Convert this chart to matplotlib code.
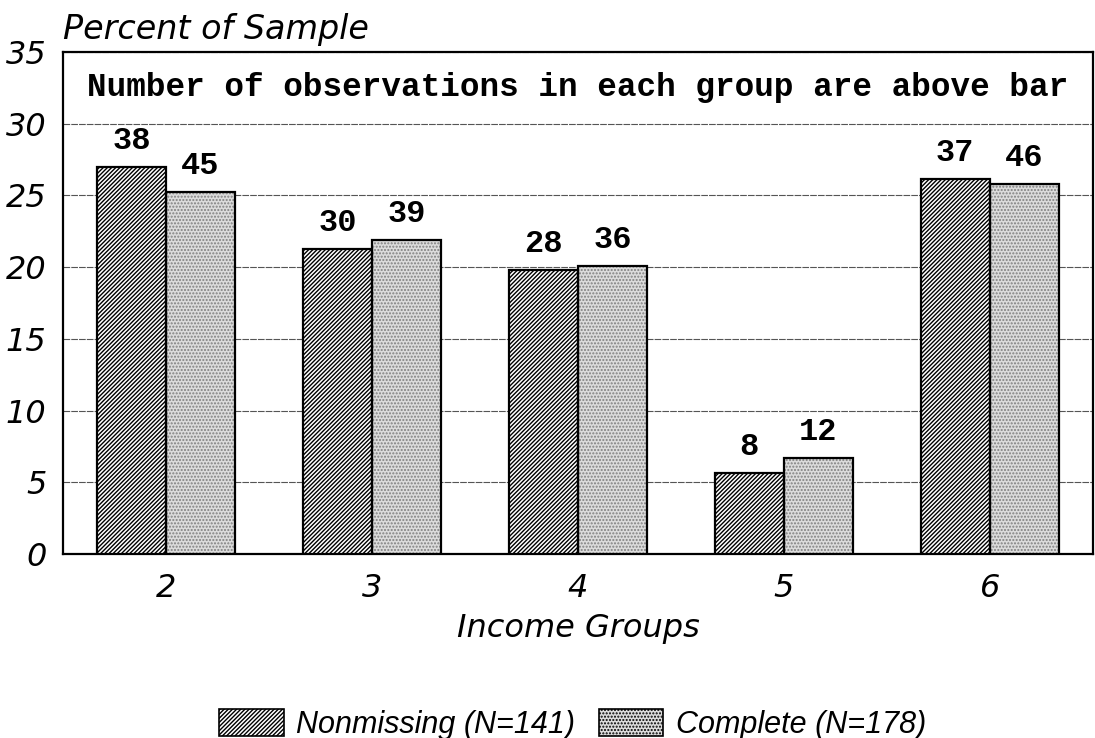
import numpy as np
import matplotlib
matplotlib.use('Agg')
import matplotlib.pyplot as plt
from matplotlib.patches import Patch

## Dados
groups = ['2', '3', '4', '5', '6']
nonmissing = [27.0, 21.3, 19.8, 5.65, 26.15]
complete = [25.25, 21.9, 20.1, 6.7, 25.8]
n_nonmissing = [38, 30, 28, 8, 37]
n_complete = [45, 39, 36, 12, 46]
yticks = [0, 5, 10, 15, 20, 25, 30, 35]

plt.rcParams['hatch.linewidth'] = 1.0
sans = ['DejaVu Sans']
narrow = ['Liberation Sans', 'DejaVu Sans']
mono = ['Liberation Mono', 'DejaVu Sans Mono']

fig = plt.figure(figsize=(10.95, 7.38), dpi=100)
ax = fig.add_axes([0.0575, 0.2493, 0.9405, 0.6802])

x = np.arange(len(groups))
w = 0.335

## Barras
ax.bar(x - w/2, nonmissing, w, facecolor='white', edgecolor='black', hatch='////////', linewidth=0, zorder=3)
ax.bar(x + w/2, complete, w, facecolor='#dcdcdc', edgecolor='#808080', hatch='.....', linewidth=0, zorder=3)
ax.bar(x - w/2, nonmissing, w, facecolor='none', edgecolor='black', linewidth=1.6, zorder=4)
ax.bar(x + w/2, complete, w, facecolor='none', edgecolor='black', linewidth=1.6, zorder=4)

for i in range(len(groups)):
    ax.text(x[i] - w/2, nonmissing[i] + 0.75, str(n_nonmissing[i]), ha='center', va='bottom',
            fontsize=23, family=mono, weight='bold')
    ax.text(x[i] + w/2, complete[i] + 0.75, str(n_complete[i]), ha='center', va='bottom',
            fontsize=23, family=mono, weight='bold')

ax.text(2, 32.5, 'Number of observations in each group are above bar', ha='center', va='center',
        fontsize=23.5, family=mono, weight='bold')

ax.set_xlim(-0.5, 4.5)
ax.set_ylim(0, 35)
ax.set_yticks(yticks)
ax.set_yticklabels([str(t) for t in yticks], fontsize=23, style='italic', family=sans)
ax.set_xticks(x)
ax.set_xticklabels(groups, fontsize=23, style='italic', family=sans)
ax.tick_params(length=0, pad=12)
ax.tick_params(axis='x', pad=14)
ax.yaxis.grid(True, color='#555555', linewidth=0.8, linestyle=(0, (6, 1)), zorder=1)
for s in ax.spines.values():
    s.set_linewidth(1.6)
ax.set_xlabel('Income Groups', fontsize=23, style='italic', family=sans, labelpad=6)
ax.text(0, 1.012, 'Percent of Sample', transform=ax.transAxes, ha='left', va='bottom',
        fontsize=24, style='italic', family=sans)

## Legenda
h1 = Patch(facecolor='white', edgecolor='black', hatch='////////', linewidth=1.2)
h2 = Patch(facecolor='#dcdcdc', edgecolor='black', hatch='.....', linewidth=1.2)
leg = fig.legend([h1, h2], ['Nonmissing (N=141)', 'Complete (N=178)'], loc='lower center',
                 bbox_to_anchor=(0.523, -0.04), ncol=2, frameon=False, handlelength=2.1,
                 handleheight=1.0, columnspacing=0.8, handletextpad=0.4,
                 prop={'family': narrow, 'style': 'italic', 'size': 22})

plt.savefig('out.png', dpi=100)
